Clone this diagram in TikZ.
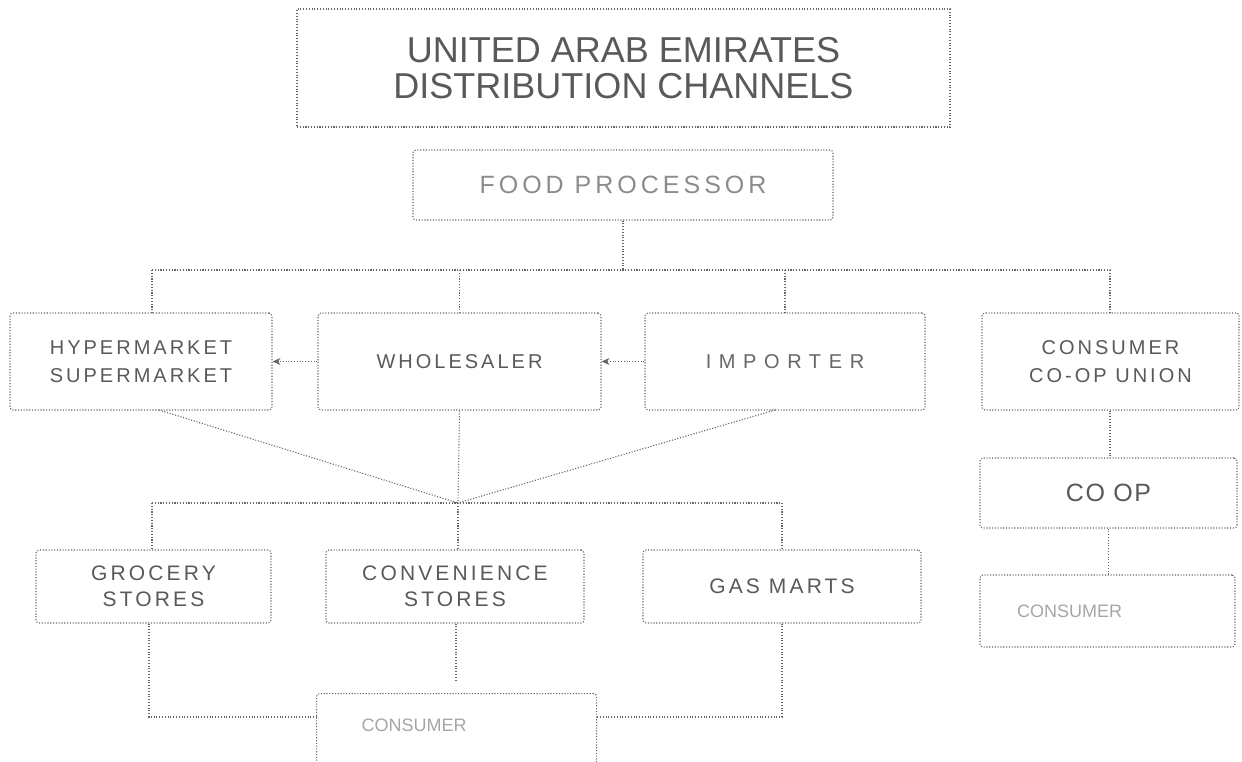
\documentclass[tikz,border=0pt]{standalone}
\usepackage{fontspec}
\setmainfont{Liberation Sans}
\newfontfamily\trackA[LetterSpace=16]{Liberation Sans}
\newfontfamily\trackB[LetterSpace=15]{Liberation Sans}
\newfontfamily\trackC[LetterSpace=38]{Liberation Sans}
\newfontfamily\trackD[LetterSpace=6]{Liberation Sans}
\usetikzlibrary{arrows.meta}
\tikzset{
  dotline/.style={draw=black!60, line width=1.1pt, dash pattern=on 1.1pt off 1.7pt},
  box/.style={dotline, rectangle, rounded corners=3pt, inner sep=0pt, align=center},
  conn/.style={dotline},
  arr/.style={dotline, -{Stealth[length=8pt,width=7pt,fill=black!60]}},
  titlefont/.style={font=\fontsize{36}{36}\selectfont, text=black!65},
  foodfont/.style={font=\trackA\fontsize{25}{28}\selectfont, text=black!45},
  rowfont/.style={font=\trackB\fontsize{20}{28}\selectfont, text=black!65},
  widefont/.style={font=\trackC\fontsize{20}{28}\selectfont, text=black!60},
  lowfont/.style={font=\trackB\fontsize{21}{26}\selectfont, text=black!65},
  coopfont/.style={font=\trackD\fontsize{25}{28}\selectfont, text=black!65},
  consfont/.style={font=\fontsize{18}{20}\selectfont, text=black!35},
}
\begin{document}
\begin{tikzpicture}[x=1pt,y=-1pt]
\useasboundingbox (0,0) rectangle (1242,761);
\clip (0,0) rectangle (1242,761);

% nodes
\node[box, rounded corners=0pt, titlefont, minimum width=653pt, minimum height=118pt] (title) at (623.5,68) {UNITED ARAB EMIRATES\\[0pt]DISTRIBUTION CHANNELS};
\node[box, foodfont, minimum width=420pt, minimum height=70pt] (food) at (623,185) {FOOD PROCESSOR};

\node[box, rowfont, minimum width=262pt, minimum height=97pt] (hyper) at (141,361.5) {HYPERMARKET\\SUPERMARKET};
\node[box, rowfont, minimum width=283pt, minimum height=97pt] (whole) at (459.5,361.5) {WHOLESALER};
\node[box, widefont, minimum width=280pt, minimum height=97pt] (importer) at (785,361.5) {IMPORTER};
\node[box, rowfont, minimum width=257pt, minimum height=97pt] (union) at (1110.5,361.5) {CONSUMER\\CO-OP UNION};

\node[box, coopfont, minimum width=257pt, minimum height=70pt] (coop) at (1108.5,493) {CO OP};
\node[box, consfont, align=left, text width=181pt, inner xsep=37pt, minimum height=72pt] (consR) at (1107.5,611) {CONSUMER};

\node[box, lowfont, minimum width=235pt, minimum height=73pt] (grocery) at (153.5,586.5) {GROCERY\\STORES};
\node[box, lowfont, minimum width=258pt, minimum height=73pt] (conv) at (455,586.5) {CONVENIENCE\\STORES};
\node[box, lowfont, minimum width=278pt, minimum height=73pt] (gas) at (782,586.5) {GAS MARTS};

\node[box, consfont, anchor=north west, align=left, text width=190pt, inner xsep=45pt,
      inner ysep=24pt, text height=14pt, text depth=60pt] (consB) at (316,693) {CONSUMER};

% junction coordinates
\coordinate (b1L) at (152,270);
\coordinate (b1R) at (1110,270);
\coordinate (conv0) at (458,503);
\coordinate (b2L) at (152,503);
\coordinate (b2R) at (782,503);
\coordinate (hypD) at (159,410);
\coordinate (impD) at (775,410);
\coordinate (gl) at (149,717);
\coordinate (gr) at (782,717);
\coordinate (cv) at (456,681);

% connectors
\draw[conn] (food.south) -- (food.south |- b1L);
\draw[conn] (b1L) -- (b1R);
\draw[conn] (b1L) -- (b1L |- hyper.north);
\draw[conn] (whole.north |- b1L) -- (whole.north);
\draw[conn] (importer.north |- b1L) -- (importer.north);
\draw[conn] (b1R) -- (b1R |- union.north);

\draw[arr] (whole.west) -- (hyper.east);
\draw[arr] (importer.west) -- (whole.east);

\draw[conn] (union.south -| b1R) -- (b1R |- coop.north);
\draw[conn] (coop.south) -- (coop.south |- consR.north);

\draw[conn] (hypD) -- (conv0);
\draw[conn] (impD) -- (conv0);
\draw[conn] (whole.south) -- (conv0);
\draw[conn] (b2L) -- (b2R);
\draw[conn] (b2L) -- (b2L |- grocery.north);
\draw[conn] (conv0) -- (conv0 |- conv.north);
\draw[conn] (b2R) -- (gas.north);

\draw[conn] (grocery.south -| gl) -- (gl) -- (gl -| consB.west);
\draw[conn] (gas.south) -- (gr) -- (gr -| consB.east);
\draw[conn] (conv.south -| cv) -- (cv);
\end{tikzpicture}
\end{document}
